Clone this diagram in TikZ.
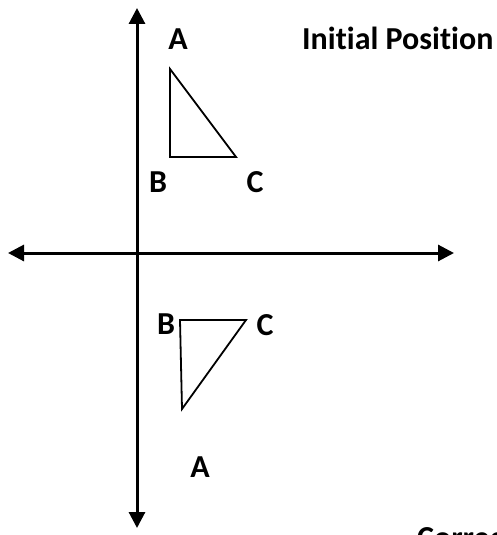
\documentclass[tikz,border=0pt]{standalone}
\usepackage{fontspec}
\setmainfont[Ligatures=NoCommon]{Carlito}
\usetikzlibrary{arrows.meta}
\begin{document}
\begin{tikzpicture}[x=1pt,y=-1pt,
  axis/.style={line width=3pt,{Triangle[length=16pt,width=16pt]}-{Triangle[length=16pt,width=16pt]}},
  tri/.style={line width=1.8pt,line join=miter},
  lbl/.style={font=\fontsize{32}{35}\selectfont\bfseries,inner sep=0pt,anchor=center}]
\clip (0,0) rectangle (496,535);
\fill[white] (0,0) rectangle (496,535);
% axes
\coordinate (yt) at (137,8);
\coordinate (yb) at (137,528);
\coordinate (xl) at (8,253);
\coordinate (xr) at (454,253);
\draw[axis] (yb) -- (yt);
\draw[axis] (xl) -- (xr);
% initial triangle
\coordinate (A1) at (170,69);
\coordinate (B1) at (170,157);
\coordinate (C1) at (236,157);
\draw[tri] (A1) -- (B1) -- (C1) -- cycle;
\node[lbl] (la1) at (178,39) {A};
\node[lbl] (lb1) at (158,182) {B};
\node[lbl] (lc1) at (255,182) {C};
\node[lbl,anchor=west] (init) at (302,38) {Initial Position};
% rotated triangle
\coordinate (B2) at (180,320);
\coordinate (C2) at (246,320);
\coordinate (A2) at (182,409);
\draw[tri] (B2) -- (C2) -- (A2) -- cycle;
\node[lbl] (lb2) at (166,324) {B};
\node[lbl] (lc2) at (265,325) {C};
\node[lbl] (la2) at (200,467) {A};
\node[lbl,anchor=north west] (corr) at (417,526) {Correct Position};
\end{tikzpicture}
\end{document}
